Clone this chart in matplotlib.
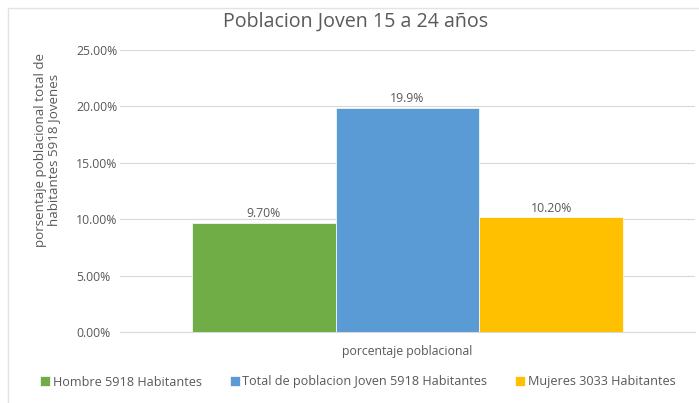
import matplotlib
matplotlib.use("Agg")
import matplotlib.pyplot as plt
from matplotlib.patches import Rectangle
from matplotlib.ticker import FuncFormatter

series = ["Hombre 5918 Habitantes", "Total de poblacion Joven 5918 Habitantes", "Mujeres 3033 Habitantes"]
values = [9.70, 19.9, 10.20]
value_labels = ["9.70%", "19.9%", "10.20%"]
category = "porcentaje poblacional"
colors = ["#70AD47", "#5B9BD5", "#FFC000"]

plt.rcParams['font.family'] = ['Open Sans', 'DejaVu Sans']
txt = "#595959"

fig = plt.figure(figsize=(6.99, 4.03), dpi=100)
fig.patches.append(Rectangle((8/699, -0.01), 1.02, 1.01 - 8/403, transform=fig.transFigure,
                             fill=False, edgecolor="#E3E3E3", linewidth=1))
ax = fig.add_axes([120/699, 1 - 332/403, 575/699, 282/403])

pos = [-1, 0, 1]
for p, v, c, s, lab in zip(pos, values, colors, series, value_labels):
    ax.bar(p, v, width=1.0, color=c, label=s, edgecolor="white", linewidth=0.5, zorder=3)
    ax.text(p, v + 0.2, lab, ha="center", va="bottom", fontsize=8.8, color=txt)

ax.set_xlim(-2.0, 2.0)
ax.set_ylim(0, 25)
ax.set_yticks([0, 5, 10, 15, 20, 25])
ax.yaxis.set_major_formatter(FuncFormatter(lambda v, p: f"{v:.2f}%"))
ax.grid(axis="y", color="#D9D9D9", linewidth=0.8, zorder=0)
for sp in ["top", "right", "left"]:
    ax.spines[sp].set_visible(False)
ax.spines["bottom"].set_color("#D9D9D9")
ax.tick_params(axis="y", length=0, labelsize=8.8, labelcolor=txt, pad=31.5)
for t in ax.get_yticklabels():
    t.set_horizontalalignment("left")
ax.set_xticks([0])
ax.set_xticklabels([category])
ax.tick_params(axis="x", length=0, labelsize=8.8, labelcolor=txt, pad=9)

fig.text(356/699, 1 - 22/403, "Poblacion Joven 15 a 24 años", ha="center", va="center",
         fontsize=14.1, color=txt)
fig.text(47/699, 1 - 150/403, "porsentaje poblacional total de\nhabitantes 5918 Jovenes",
         rotation=90, ha="center", va="center", fontsize=9.6, color=txt, linespacing=1.05)

fig.legend(loc="center", bbox_to_anchor=(358/699, 1 - 382/403), ncol=3, frameon=False,
           fontsize=9.1, labelcolor=txt, handlelength=0.8, handleheight=0.8,
           handletextpad=0.2, columnspacing=2.2)

fig.savefig("out.png", dpi=100)
